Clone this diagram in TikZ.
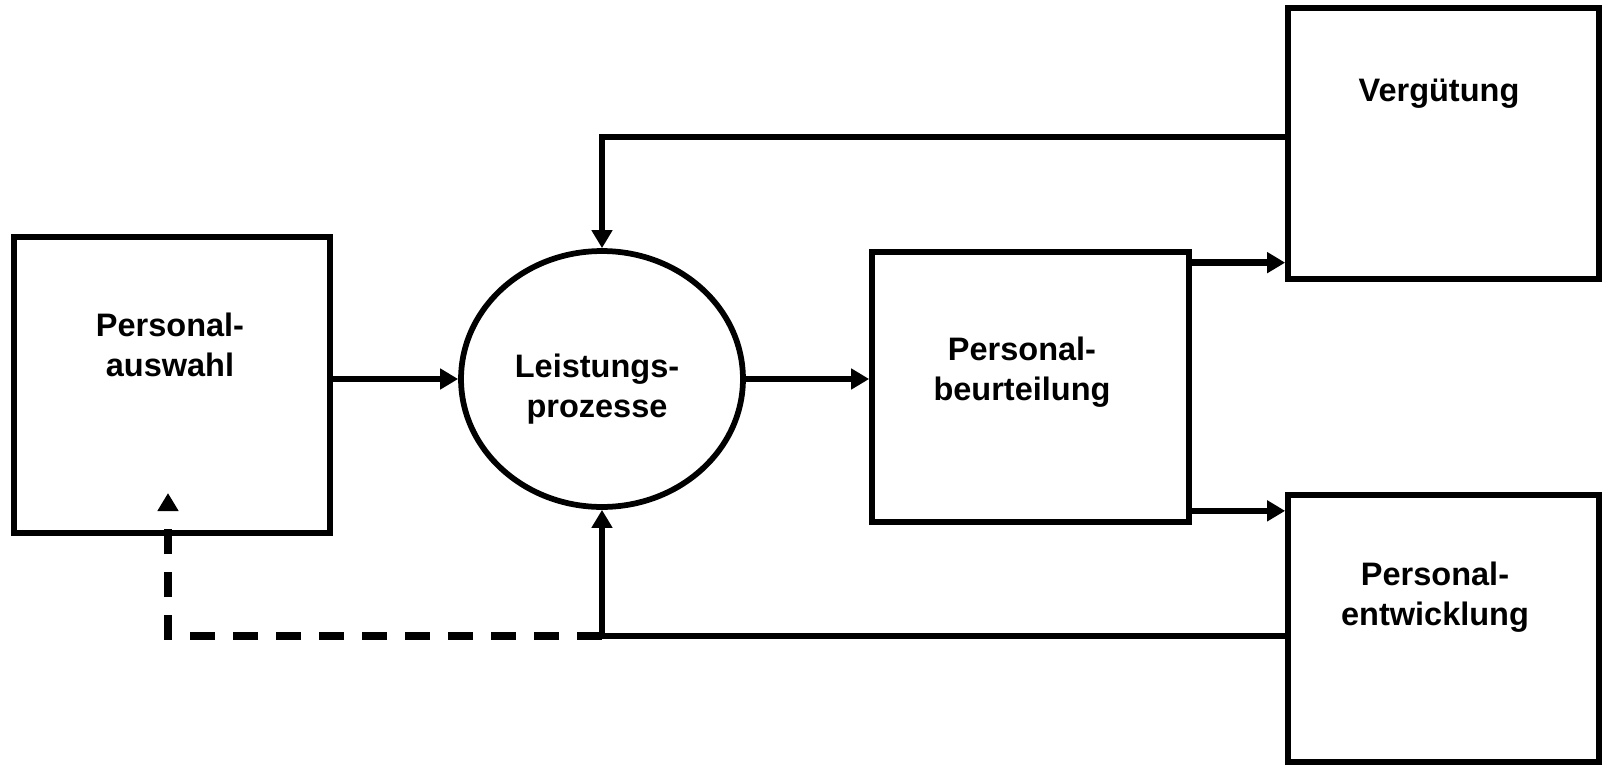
\documentclass[tikz,border=0pt]{standalone}
\usepackage{fontspec}
\setmainfont{Liberation Sans}
\usetikzlibrary{arrows.meta,shapes.geometric}

\tikzset{
  box/.style={draw, line width=0.115cm, inner sep=0pt},
  lbl/.style={font=\bfseries\fontsize{18.5}{22.5}\selectfont, align=center, anchor=north, inner sep=0pt},
  conn/.style={line width=0.13cm, -{Triangle[length=0.36cm,width=0.4cm]}},
}

\begin{document}
\begin{tikzpicture}[x=0.02cm, y=-0.02cm]
    \useasboundingbox (0,0) rectangle (1602,764);

    \node[box, minimum width=6.32cm, minimum height=5.92cm] (auswahl) at (172, 385) {};
    \node[box, ellipse, minimum width=5.64cm, minimum height=5.12cm] (prozess) at (602, 379) {};
    \node[box, minimum width=6.34cm, minimum height=5.4cm] (beurteilung) at (1030.5, 387) {};
    \node[box, minimum width=6.22cm, minimum height=5.42cm] (verguetung) at (1443.5, 143.5) {};
    \node[box, minimum width=6.22cm, minimum height=5.34cm] (entwicklung) at (1443.5, 628.5) {};

    \node[lbl] (t1) at (170, 313) {Personal-\\auswahl};
    \node[lbl] (t2) at (597, 354) {Leistungs-\\prozesse};
    \node[lbl] (t3) at (1022, 337) {Personal-\\beurteilung};
    \node[lbl] (t4) at (1439, 79) {Vergütung};
    \node[lbl] (t5) at (1435, 562) {Personal-\\entwicklung};

    \coordinate (oben) at (602, 137);
    \coordinate (unten) at (602, 636);
    \coordinate (links) at (168, 636);
    \coordinate (ziel) at (168, 493);
    \coordinate (b1) at ([yshift=-0.27cm]beurteilung.north east);
    \coordinate (b2) at ([yshift=0.28cm]beurteilung.south east);

    \draw[conn] (auswahl.east |- prozess.west) -- (prozess.west);
    \draw[conn] (prozess.east) -- (prozess.east -| beurteilung.west);
    \draw[conn] (b1) -- (b1 -| verguetung.west);
    \draw[conn] (b2) -- (b2 -| entwicklung.west);
    \draw[conn] (oben -| verguetung.west) -- (oben) -- (prozess.north);
    \draw[conn] (unten -| entwicklung.west) -- (unten) -- (prozess.south);
    \draw[conn, line width=0.145cm, dash pattern=on 0.51cm off 0.35cm] (unten) -- (links) -- (ziel);
\end{tikzpicture}
\end{document}
